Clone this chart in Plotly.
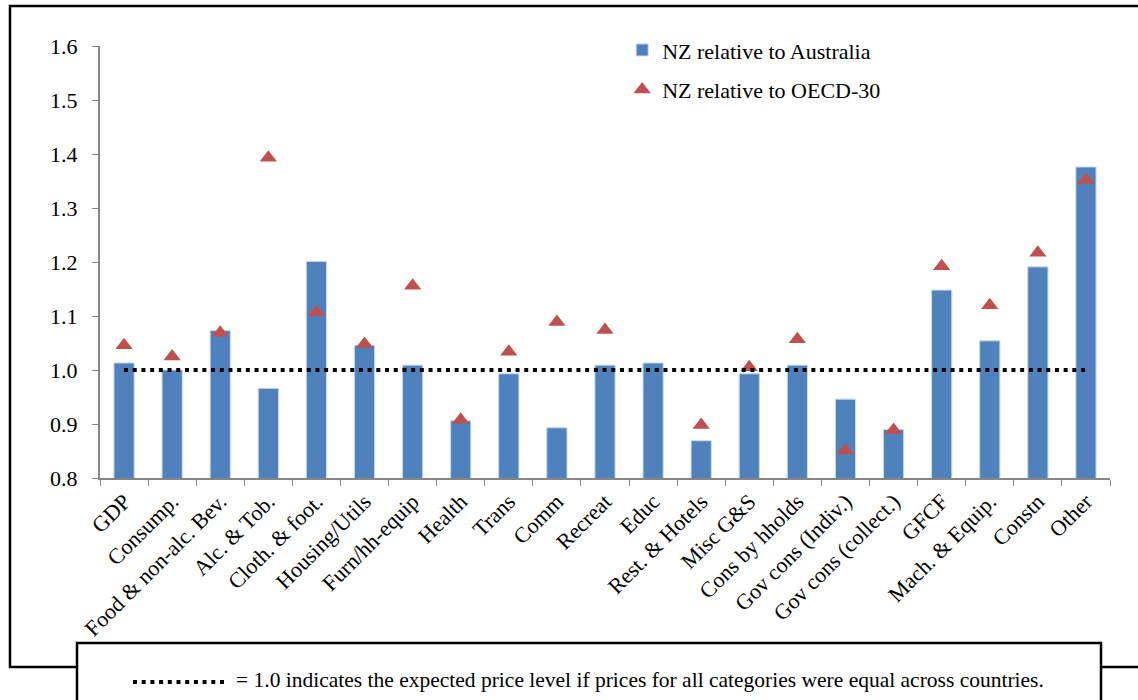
import plotly.graph_objects as go

categories = ["GDP", "Consump.", "Food & non-alc. Bev.", "Alc. & Tob.", "Cloth. & foot.",
              "Housing/Utils", "Furn/hh-equip", "Health", "Trans", "Comm", "Recreat", "Educ",
              "Rest. & Hotels", "Misc G&S", "Cons by hholds", "Gov cons (Indiv.)",
              "Gov cons (collect.)", "GFCF", "Mach. & Equip.", "Constn", "Other"]
nz_vs_australia = [1.013, 1.000, 1.073, 0.966, 1.201, 1.046, 1.009, 0.906, 0.993, 0.893, 1.009,
                   1.013, 0.869, 0.993, 1.009, 0.946, 0.890, 1.148, 1.054, 1.191, 1.376]
nz_vs_oecd30 = [1.046, 1.025, 1.069, 1.393, 1.107, 1.048, 1.156, 0.908, 1.034, 1.089, 1.074,
                None, 0.898, 1.005, 1.057, 0.851, 0.889, 1.192, 1.120, 1.217, 1.352]
reference_level = 1.0
y_ticks = [0.8, 0.9, 1.0, 1.1, 1.2, 1.3, 1.4, 1.5, 1.6]
note_text = "= 1.0 indicates the expected price level if prices for all categories were equal across countries."

FONT = "Liberation Serif"

fig = go.Figure()
fig.add_trace(go.Bar(
    x=categories, y=nz_vs_australia, name="NZ relative to Australia",
    marker=dict(color="#4F81BD", line=dict(color="#C9D8EC", width=1)),
    legendgroup="a",
))
fig.add_trace(go.Scatter(
    x=categories, y=nz_vs_oecd30, name="NZ relative to OECD-30", mode="markers",
    marker=dict(symbol="triangle-up", color="#C0504D", size=15),
    legendgroup="b",
))
fig.add_trace(go.Scatter(
    x=[categories[0], categories[-1]], y=[reference_level, reference_level], mode="lines",
    line=dict(color="black", width=4, dash="4px,4.7px"), showlegend=False, hoverinfo="skip",
))

fig.update_layout(
    width=1138, height=700,
    margin=dict(l=100, r=28, t=46, b=222),
    paper_bgcolor="white", plot_bgcolor="white",
    font=dict(family=FONT, size=22, color="black"),
    bargap=0.58,
    showlegend=True,
    legend=dict(x=0.517, y=1.039, xanchor="left", yanchor="top", traceorder="grouped",
                tracegroupgap=8, font=dict(family=FONT, size=22), bgcolor="rgba(0,0,0,0)"),
    xaxis=dict(type="category", showline=True, linecolor="#868686", linewidth=2,
               ticks="outside", tickson="boundaries", ticklen=6, tickcolor="#868686",
               tickangle=-45, tickfont=dict(family=FONT, size=22), showgrid=False,
               range=[-0.5, len(categories) - 0.5]),
    yaxis=dict(range=[0.8, 1.6], tickvals=y_ticks, tickformat=".1f", showline=True,
               linecolor="#868686", linewidth=2, ticks="outside", ticklen=6,
               tickcolor="#868686", showgrid=False, zeroline=False,
               tickfont=dict(family=FONT, size=22), ticklabelstandoff=10),
)

# outer frame
fig.add_shape(type="rect", xref="paper", yref="paper",
              x0=(10 - 100) / 1010, x1=(1150 - 100) / 1010,
              y0=(478 - 667) / 432, y1=(478 - 6) / 432,
              line=dict(color="black", width=2.5), fillcolor="rgba(0,0,0,0)", layer="above")
# note box
fig.add_shape(type="rect", xref="paper", yref="paper",
              x0=(77 - 100) / 1010, x1=(1101 - 100) / 1010,
              y0=(478 - 715) / 432, y1=(478 - 643) / 432,
              line=dict(color="black", width=2.5), fillcolor="white", layer="above")
# dotted sample in note
fig.add_shape(type="line", xref="paper", yref="paper",
              x0=(133 - 100) / 1010, x1=(225 - 100) / 1010,
              y0=(478 - 682) / 432, y1=(478 - 682) / 432,
              line=dict(color="black", width=4, dash="4px,4.7px"), layer="above")
fig.add_annotation(text=note_text, xref="paper", yref="paper",
                   x=(234 - 100) / 1010, y=(478 - 680) / 432, xanchor="left", yanchor="middle",
                   showarrow=False, font=dict(family=FONT, size=21.5, color="black"))

fig.write_html("out.html", config={"displayModeBar": False},
               post_script="document.body.style.margin='0';document.body.style.overflow='hidden';")
